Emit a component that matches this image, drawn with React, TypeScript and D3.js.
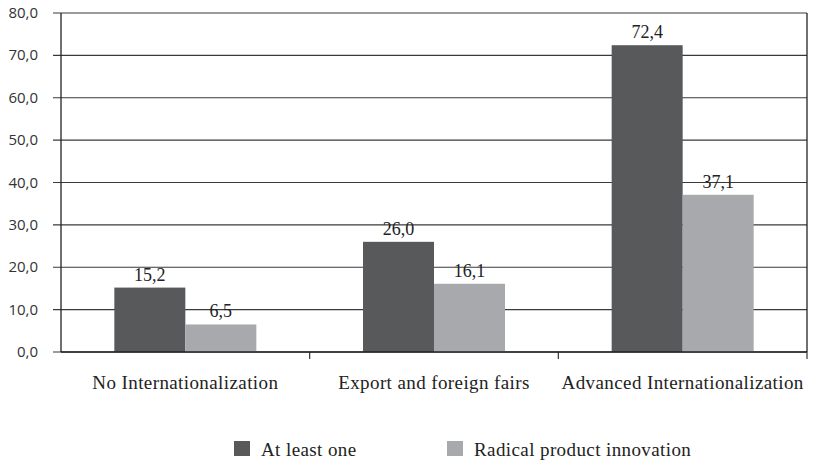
import React from "react";
import * as d3 from "d3";

const categories = ["No Internationalization", "Export and foreign fairs", "Advanced Internationalization"];
const seriesNames = ["At least one", "Radical product innovation"];
const atLeastOne = [15.2, 26.0, 72.4];
const radical = [6.5, 16.1, 37.1];
const yTicks = [0, 10, 20, 30, 40, 50, 60, 70, 80];
const colors = ["#58595b", "#a7a9ac"];

const W = 814;
const H = 461;
const margin = { left: 61, right: 7, top: 13, bottom: 109 };

export default function App() {
  const x0 = d3
    .scaleBand<string>()
    .domain(categories)
    .range([margin.left, W - margin.right])
    .paddingInner(0)
    .paddingOuter(0);
  const groupW = 142;
  const x1 = d3.scaleBand<string>().domain(seriesNames).range([0, groupW]).padding(0);
  const y = d3.scaleLinear().domain([0, 80]).range([H - margin.bottom, margin.top]);
  const fmt = (v: number) => v.toFixed(1).replace(".", ",");
  const series = [atLeastOne, radical];
  const bottom = y(0);
  const serif = "'Liberation Serif', 'DejaVu Serif', serif";
  const sans = "'Open Sans', 'DejaVu Sans', sans-serif";

  return (
    <svg width={W} height={H} style={{ position: "absolute", left: 0, top: 0 }}>
      <rect width={W} height={H} fill="#fff" />
      {yTicks.map((t) => (
        <g key={t}>
          <line x1={margin.left - 8} x2={W - margin.right} y1={y(t)} y2={y(t)} stroke="#3a3a3a" strokeWidth={1.2} />
          <text x={margin.left - 23} y={y(t) + 5} textAnchor="end" fontFamily={sans} fontSize={15} fill="#333">
            {fmt(t)}
          </text>
        </g>
      ))}
      <line x1={margin.left} x2={margin.left} y1={margin.top} y2={bottom} stroke="#222" strokeWidth={1.3} />
      <line x1={W - margin.right} x2={W - margin.right} y1={margin.top} y2={bottom} stroke="#222" strokeWidth={1.3} />
      {categories.map((c, i) => (
        <line key={"t" + i} x1={x0(c)! + x0.bandwidth()} x2={x0(c)! + x0.bandwidth()} y1={bottom} y2={bottom + 7} stroke="#333" strokeWidth={1.2} />
      ))}
      {categories.map((c, ci) => {
        const gx = x0(c)! + (x0.bandwidth() - groupW) / 2;
        return (
          <g key={c}>
            {series.map((s, si) => {
              const bx = gx + x1(seriesNames[si])!;
              const v = s[ci];
              return (
                <g key={si}>
                  <rect x={bx} y={y(v)} width={x1.bandwidth()} height={bottom - y(v)} fill={colors[si]} />
                  <text x={bx + x1.bandwidth() / 2} y={y(v) - 7} textAnchor="middle" fontFamily={serif} fontSize={18} fill="#222">
                    {fmt(v)}
                  </text>
                </g>
              );
            })}
            <text x={x0(c)! + x0.bandwidth() / 2} y={bottom + 37} textAnchor="middle" fontFamily={serif} fontSize={19} letterSpacing={0.4} fill="#222">
              {c}
            </text>
          </g>
        );
      })}
      <line x1={margin.left} x2={W - margin.right} y1={bottom} y2={bottom} stroke="#222" strokeWidth={1.3} />
      {seriesNames.map((n, i) => {
        const lx = i === 0 ? 234 : 447;
        return (
          <g key={n}>
            <rect x={lx} y={441} width={16} height={15} fill={colors[i]} />
            <text x={lx + 27} y={456} fontFamily={serif} fontSize={19} letterSpacing={0.4} fill="#222">
              {n}
            </text>
          </g>
        );
      })}
    </svg>
  );
}
